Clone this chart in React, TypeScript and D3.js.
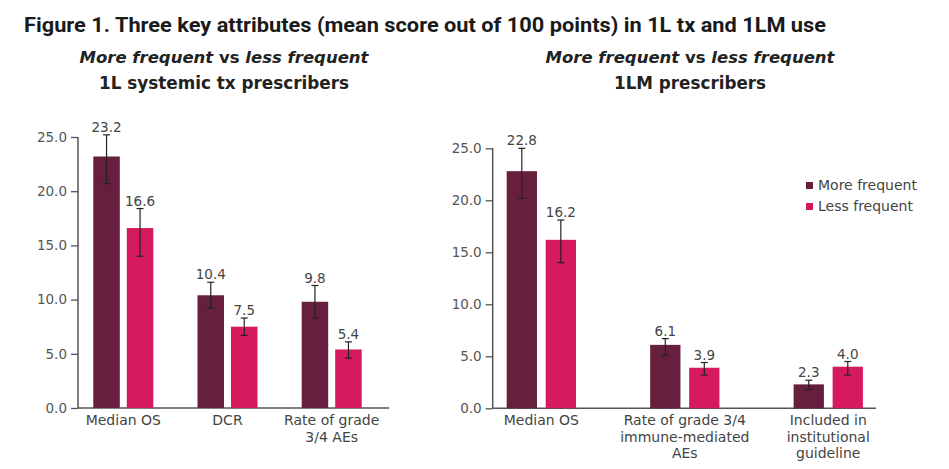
import React, { useEffect, useRef } from "react";
import * as d3 from "d3";

const seriesNames = ["More frequent", "Less frequent"];
const seriesColors = ["#66203d", "#d51b5d"];
const yTicks = [0, 5, 10, 15, 20, 25];

const leftCategories = [["Median OS"], ["DCR"], ["Rate of grade", "3/4 AEs"]];
const leftMore = [23.2, 10.4, 9.8];
const leftLess = [16.6, 7.5, 5.4];
const leftMoreLow = [20.7, 9.2, 8.3];
const leftMoreHigh = [25.2, 11.6, 11.3];
const leftLessLow = [14.0, 6.7, 4.6];
const leftLessHigh = [18.4, 8.3, 6.1];

const rightCategories = [["Median OS"], ["Rate of grade 3/4", "immune-mediated", "AEs"], ["Included in", "institutional", "guideline"]];
const rightMore = [22.8, 6.1, 2.3];
const rightLess = [16.2, 3.9, 4.0];
const rightMoreLow = [20.2, 5.1, 1.8];
const rightMoreHigh = [25.0, 6.7, 2.7];
const rightLessLow = [14.0, 3.2, 3.2];
const rightLessHigh = [18.1, 4.4, 4.5];

const FONT = "'DejaVu Sans', sans-serif";

export default function App() {
  const ref = useRef<SVGSVGElement>(null);

  useEffect(() => {
    const svg = d3.select(ref.current);
    svg.selectAll("*").remove();

    svg.append("text")
      .attr("x", 24).attr("y", 32)
      .attr("font-family", "'Liberation Sans Narrow', Roboto, sans-serif")
      .attr("font-weight", 700).attr("font-size", 21)
      .attr("fill", "#1a1a1a")
      .attr("textLength", 802).attr("lengthAdjust", "spacingAndGlyphs")
      .text("Figure 1. Three key attributes (mean score out of 100 points) in 1L tx and 1LM use");

    const subtitle = (cx: number, line2: string, l2w: number) => {
      const t = svg.append("text")
        .attr("x", cx).attr("y", 63).attr("text-anchor", "middle")
        .attr("font-family", FONT).attr("font-size", 16.5).attr("font-weight", 700).attr("fill", "#222");
      t.append("tspan").attr("font-style", "italic").text("More frequent");
      t.append("tspan").text(" vs ");
      t.append("tspan").attr("font-style", "italic").text("less frequent");
      svg.append("text")
        .attr("x", cx).attr("y", 89).attr("text-anchor", "middle")
        .attr("font-family", FONT).attr("font-size", 17).attr("font-weight", 700).attr("fill", "#222")
        .attr("textLength", l2w).attr("lengthAdjust", "spacingAndGlyphs")
        .text(line2);
    };
    subtitle(224, "1L systemic tx prescribers", 250);
    subtitle(690, "1LM prescribers", 152);

    type Panel = {
      axisX: number; y0: number; y25: number; axisEnd: number;
      band: [number, number]; barW: number; gap: number;
      cats: string[][]; more: number[]; less: number[];
      moreLow: number[]; moreHigh: number[]; lessLow: number[]; lessHigh: number[];
    };

    const drawPanel = (p: Panel) => {
      const g = svg.append("g");
      const y = d3.scaleLinear().domain([0, 25]).range([p.y0, p.y25]);
      const x = d3.scaleBand<number>().domain(d3.range(p.cats.length)).range(p.band);

      const ax = g.append("g").attr("transform", `translate(${p.axisX},0)`)
        .call(d3.axisLeft(y).tickValues(yTicks).tickSize(7).tickPadding(4).tickFormat(d3.format(".1f")));
      ax.select(".domain").remove();
      ax.selectAll(".tick line").attr("stroke", "#555").attr("stroke-width", 1.3);
      ax.selectAll(".tick text").attr("font-family", FONT).attr("font-size", 13.5).attr("fill", "#555");
      g.append("line").attr("x1", p.axisX).attr("x2", p.axisX).attr("y1", y(0)).attr("y2", y(25))
        .attr("stroke", "#555").attr("stroke-width", 1.5);
      g.append("line").attr("x1", p.axisX).attr("x2", p.axisEnd).attr("y1", y(0)).attr("y2", y(0))
        .attr("stroke", "#555").attr("stroke-width", 1.5);

      const series = [
        { vals: p.more, lo: p.moreLow, hi: p.moreHigh, color: seriesColors[0], off: -p.gap / 2 - p.barW },
        { vals: p.less, lo: p.lessLow, hi: p.lessHigh, color: seriesColors[1], off: p.gap / 2 },
      ];
      series.forEach((s) => {
        s.vals.forEach((v, i) => {
          const cx = (x(i) as number) + x.bandwidth() / 2;
          const bx = cx + s.off;
          const mid = bx + p.barW / 2;
          g.append("rect").attr("x", bx).attr("y", y(v)).attr("width", p.barW)
            .attr("height", y(0) - y(v)).attr("fill", s.color);
          const eb = g.append("g").attr("stroke", "#222").attr("stroke-width", 1.2);
          eb.append("line").attr("x1", mid).attr("x2", mid).attr("y1", y(s.hi[i])).attr("y2", y(s.lo[i]));
          eb.append("line").attr("x1", mid - 3.5).attr("x2", mid + 3.5).attr("y1", y(s.hi[i])).attr("y2", y(s.hi[i]));
          eb.append("line").attr("x1", mid - 3.5).attr("x2", mid + 3.5).attr("y1", y(s.lo[i])).attr("y2", y(s.lo[i]));
          g.append("text").attr("x", mid).attr("y", y(s.hi[i]) - 3)
            .attr("text-anchor", "middle").attr("font-family", FONT).attr("font-size", 13.5)
            .attr("fill", "#444").text(d3.format(".1f")(v));
        });
      });

      p.cats.forEach((lines, i) => {
        const cx = (x(i) as number) + x.bandwidth() / 2;
        const t = g.append("text").attr("text-anchor", "middle").attr("font-family", FONT)
          .attr("font-size", 14).attr("fill", "#444");
        lines.forEach((ln, j) => {
          t.append("tspan").attr("x", cx).attr("y", 425 + j * 16.5).text(ln);
        });
      });
    };

    drawPanel({
      axisX: 78, y0: 408, y25: 137, axisEnd: 389, band: [71.2, 383.8], barW: 26.5, gap: 7,
      cats: leftCategories, more: leftMore, less: leftLess,
      moreLow: leftMoreLow, moreHigh: leftMoreHigh, lessLow: leftLessLow, lessHigh: leftLessHigh,
    });
    drawPanel({
      axisX: 492.7, y0: 408.3, y25: 148.3, axisEnd: 876, band: [469.6, 900], barW: 30.3, gap: 8.7,
      cats: rightCategories, more: rightMore, less: rightLess,
      moreLow: rightMoreLow, moreHigh: rightMoreHigh, lessLow: rightLessLow, lessHigh: rightLessHigh,
    });

    const lg = svg.append("g").attr("transform", "translate(806,180)");
    seriesNames.forEach((name, i) => {
      lg.append("rect").attr("x", 0).attr("y", i * 21 + 2).attr("width", 7).attr("height", 7)
        .attr("fill", seriesColors[i]);
      lg.append("text").attr("x", 12).attr("y", i * 21 + 10).attr("font-family", FONT)
        .attr("font-size", 14).attr("fill", "#444").text(name);
    });
  }, []);

  return (
    <svg ref={ref} width={949} height={469}
      style={{ position: "absolute", left: 0, top: 0, display: "block", background: "#fff" }} />
  );
}
